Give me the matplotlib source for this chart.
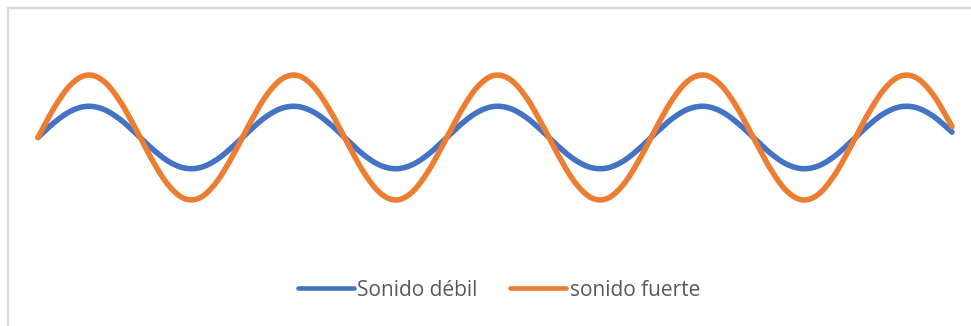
import matplotlib
matplotlib.use("Agg")
import matplotlib.pyplot as plt
import numpy as np
from matplotlib.patches import Rectangle

# sample positions (radians) and the two waves
t = [0.0, 0.5, 1.0, 1.5, 2.0, 2.5, 3.0, 3.5, 4.0, 4.5, 5.0, 5.5, 6.0, 6.5,
     7.0, 7.5, 8.0, 8.5, 9.0, 9.5, 10.0, 10.5, 11.0, 11.5, 12.0, 12.5, 13.0,
     13.5, 14.0, 14.5, 15.0, 15.5, 16.0, 16.5, 17.0, 17.5, 18.0, 18.5, 19.0,
     19.5, 20.0, 20.5, 21.0, 21.5, 22.0, 22.5, 23.0, 23.5, 24.0, 24.5, 25.0,
     25.5, 26.0, 26.5, 27.0, 27.5, 28.0, 28.1]

debil = [0.0, 0.479, 0.841, 0.997, 0.909, 0.598, 0.141, -0.351, -0.757,
         -0.978, -0.959, -0.706, -0.279, 0.215, 0.657, 0.938, 0.989, 0.798,
         0.412, -0.075, -0.544, -0.880, -1.0, -0.875, -0.537, -0.066, 0.420,
         0.804, 0.991, 0.935, 0.650, 0.207, -0.288, -0.712, -0.961, -0.976,
         -0.751, -0.342, 0.150, 0.605, 0.913, 0.997, 0.837, 0.472, -0.009,
         -0.487, -0.846, -0.998, -0.906, -0.591, -0.132, 0.360, 0.763, 0.980,
         0.956, 0.699, 0.271, 0.173]

fuerte = [0.0, 0.958, 1.683, 1.995, 1.819, 1.197, 0.282, -0.702, -1.514,
          -1.955, -1.918, -1.411, -0.559, 0.430, 1.314, 1.876, 1.979, 1.596,
          0.824, -0.150, -1.088, -1.759, -2.0, -1.750, -1.073, -0.133, 0.840,
          1.608, 1.981, 1.869, 1.301, 0.414, -0.576, -1.424, -1.923, -1.952,
          -1.502, -0.684, 0.300, 1.210, 1.826, 1.994, 1.673, 0.944, -0.018,
          -0.974, -1.693, -1.996, -1.811, -1.181, -0.265, 0.719, 1.525, 1.959,
          1.912, 1.398, 0.542, 0.346]

labels = ["Sonido débil", "sonido fuerte"]
colors = ["#4472C4", "#ED7D31"]


def smooth(x, y, n=20):
    # Catmull-Rom spline through the points, like a smoothed line in a spreadsheet
    x = np.asarray(x, float)
    y = np.asarray(y, float)
    px = np.concatenate([[2 * x[0] - x[1]], x, [2 * x[-1] - x[-2]]])
    py = np.concatenate([[2 * y[0] - y[1]], y, [2 * y[-1] - y[-2]]])
    s = np.linspace(0, 1, n, endpoint=False)
    xs, ys = [], []
    for i in range(1, len(px) - 2):
        for p, out in ((px, xs), (py, ys)):
            p0, p1, p2, p3 = p[i - 1], p[i], p[i + 1], p[i + 2]
            out.extend(0.5 * (2 * p1 + (-p0 + p2) * s
                              + (2 * p0 - 5 * p1 + 4 * p2 - p3) * s ** 2
                              + (-p0 + 3 * p1 - 3 * p2 + p3) * s ** 3))
    xs.append(x[-1])
    ys.append(y[-1])
    return xs, ys


fig = plt.figure(figsize=(9.71, 3.26), dpi=100)
ax = fig.add_axes([38 / 971, 71 / 326, 914 / 971, 235 / 326])

for vals, lab, c in zip([debil, fuerte], labels, colors):
    sx, sy = smooth(t, vals)
    ax.plot(sx, sy, color=c, lw=4, solid_capstyle="round", label=lab,
            clip_on=False)

ax.set_xlim(t[0], t[-1])
ax.set_ylim(-3.76, 3.76)
ax.axis("off")

# chart area border
fig.patches.append(Rectangle((7.5 / 971, -0.5), 2, 0.5 + (326 - 7.5) / 326,
                             transform=fig.transFigure, fill=False,
                             edgecolor="#D9D9D9", lw=1.5))

leg = fig.legend(loc="center", bbox_to_anchor=(499 / 971, 1 - 290 / 326),
                 ncol=2, frameon=False, handlelength=2.7, handletextpad=0.15,
                 columnspacing=1.55, prop={"family": "Open Sans", "size": 15})
for txt in leg.get_texts():
    txt.set_color("#595959")
for line in leg.get_lines():
    line.set_linewidth(3.3)
    line.set_solid_capstyle("round")

fig.savefig("out.png", dpi=100)
